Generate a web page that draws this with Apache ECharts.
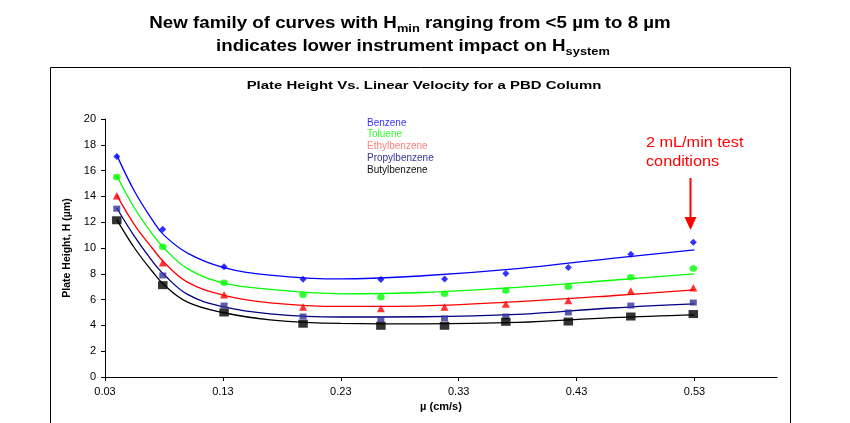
<!DOCTYPE html>
<html>
<head>
<meta charset="utf-8">
<script src="https://cdn.jsdelivr.net/npm/echarts@6/dist/echarts.min.js"></script>
<style>html,body{margin:0;padding:0;background:#fff}#c{width:850px;height:423px}</style>
</head>
<body>
<div id="c"></div>
<script>
// ---- data ----
const velocity = [0.04, 0.079, 0.131, 0.198, 0.264, 0.318, 0.37, 0.423, 0.476, 0.529];
const benzene = [17.1, 11.45, 8.54, 7.58, 7.55, 7.6, 8.02, 8.48, 9.52, 10.45];
const toluene = [15.5, 10.1, 7.3, 6.37, 6.19, 6.45, 6.7, 6.99, 7.74, 8.41];
const ethylbenzene = [14.06, 8.85, 6.37, 5.42, 5.31, 5.42, 5.65, 5.93, 6.66, 6.91];
const propylbenzene = [13.05, 7.87, 5.54, 4.69, 4.49, 4.54, 4.69, 5.0, 5.54, 5.77];
const butylbenzene = [12.15, 7.12, 5.0, 4.13, 3.97, 3.97, 4.28, 4.3, 4.69, 4.88];

// trend lines
const trendVelocity = [0.04, 0.055, 0.07, 0.08, 0.1, 0.13, 0.17, 0.23, 0.3, 0.38, 0.46, 0.53];
const benzeneTrend = [17.2, 14.4, 12.2, 11.0, 9.6, 8.5, 7.9, 7.6, 7.85, 8.4, 9.2, 9.85];
const tolueneTrend = [15.6, 13.1, 11.1, 10.0, 8.4, 7.3, 6.8, 6.45, 6.55, 6.95, 7.5, 8.0];
const ethylbenzeneTrend = [14.1, 11.8, 10.0, 8.9, 7.35, 6.35, 5.75, 5.47, 5.52, 5.85, 6.3, 6.75];
const propylbenzeneTrend = [13.1, 10.9, 9.0, 7.95, 6.4, 5.45, 4.9, 4.65, 4.67, 4.85, 5.35, 5.67];
const butylbenzeneTrend = [12.2, 10.0, 8.2, 7.15, 5.8, 5.0, 4.43, 4.15, 4.12, 4.23, 4.6, 4.82];

const xTicks = [0.03, 0.13, 0.23, 0.33, 0.43, 0.53];
const seriesNames = ['Benzene', 'Toluene', 'Ethylbenzene', 'Propylbenzene', 'Butylbenzene'];

// ---- styles ----
const pointColors = ['#0000ff', '#00ff00', '#ff0000', '#333399', '#000000'];
const lineColors = ['#0000ff', '#00ff00', '#ff0000', '#000080', '#000000'];
const legendColors = ['#3333ff', '#33ff33', '#ff8080', '#333399', '#111111'];
const symbols = ['diamond', 'circle', 'triangle', 'rect', 'rect'];
const symbolSizes = [[7, 7], [7.5, 6.5], [8, 7.5], [7, 6], [9.5, 8]];
const pointData = [benzene, toluene, ethylbenzene, propylbenzene, butylbenzene];
const trendData = [benzeneTrend, tolueneTrend, ethylbenzeneTrend, propylbenzeneTrend, butylbenzeneTrend];

const zip = (xs, ys) => xs.map((x, i) => [x, ys[i]]);
const FONT = '"Liberation Sans", Arial, sans-serif';

const series = [];
seriesNames.forEach((n, i) => {
  series.push({
    name: n + ' trend', type: 'line', data: zip(trendVelocity, trendData[i]),
    smooth: 0.4, showSymbol: false, silent: true,
    lineStyle: { color: lineColors[i], width: 1.3 }, z: 2
  });
});
seriesNames.forEach((n, i) => {
  series.push({
    name: n, type: 'scatter', data: zip(velocity, pointData[i]),
    symbol: symbols[i], symbolSize: symbolSizes[i],
    itemStyle: { color: pointColors[i] }, z: 3
  });
});

const headFont = 'bold 16px "Liberation Sans", Arial';
const subFont = 'bold 11px "Liberation Sans", Arial';

const chart = echarts.init(document.getElementById('c'), null, { renderer: 'canvas' });
chart.setOption({
  animation: false,
  backgroundColor: '#fff',
  textStyle: { fontFamily: FONT },
  legend: {
    orient: 'vertical', left: 367, top: 118, itemGap: 1.7, padding: 0,
    icon: 'none', itemWidth: 0, itemHeight: 10, selectedMode: false,
    data: seriesNames.map((n, i) => ({ name: n, textStyle: { color: legendColors[i] } })),
    textStyle: { fontSize: 10, fontFamily: FONT, padding: [0, 0, 0, -5] }
  },
  grid: { left: 105, right: 73, top: 119, bottom: 46, containLabel: false },
  xAxis: {
    type: 'value', min: 0.03, max: 0.6,
    name: 'µ (cm/s)', nameLocation: 'middle', nameGap: 23,
    nameTextStyle: { fontSize: 11, fontWeight: 'bold', color: '#000', fontFamily: FONT },
    axisLine: { lineStyle: { color: '#000', width: 1 } },
    axisTick: { show: true, customValues: xTicks, length: 4, lineStyle: { color: '#000' } },
    axisLabel: { customValues: xTicks, fontSize: 11, color: '#000', margin: 9,
      formatter: v => v.toFixed(2) },
    splitLine: { show: false }
  },
  yAxis: {
    type: 'value', min: 0, max: 20, interval: 2,
    name: 'Plate Height, H (µm)', nameLocation: 'middle', nameGap: 31, nameRotate: 90,
    nameTextStyle: { fontSize: 10.5, fontWeight: 'bold', color: '#000', fontFamily: FONT },
    axisLine: { show: true, lineStyle: { color: '#000', width: 1 } },
    axisTick: { show: true, length: 4, lineStyle: { color: '#000' } },
    axisLabel: { fontSize: 11, color: '#000', margin: 9 },
    splitLine: { show: false }
  },
  graphic: [
    { type: 'rect', shape: { x: 50.5, y: 67.5, width: 740, height: 400 },
      style: { fill: 'none', stroke: '#000', lineWidth: 1 }, z: -1, silent: true },
    { type: 'text', x: 424, y: 80, scaleX: 1.3, style: {
        text: 'Plate Height Vs. Linear Velocity for a PBD Column',
        textAlign: 'center', fill: '#000', font: 'bold 11.5px "Liberation Sans", Arial'
      } },
    { type: 'text', x: 410, y: 14, scaleX: 1.17, style: {
        text: 'New family of curves with H{sub|min} ranging from <5 µm to 8 µm',
        textAlign: 'center', fill: '#000', font: headFont,
        rich: { sub: { font: subFont, padding: [9, 0, 0, 0] } }
      } },
    { type: 'text', x: 413, y: 37, scaleX: 1.17, style: {
        text: 'indicates lower instrument impact on H{sub|system}',
        textAlign: 'center', fill: '#000', font: headFont,
        rich: { sub: { font: subFont, padding: [9, 0, 0, 0] } }
      } },
    { type: 'text', x: 646, y: 133, scaleX: 1.12, style: {
        text: '2 mL/min test\nconditions', fill: '#ff0000', font: '14.5px "Liberation Sans", Arial', lineHeight: 19
      } },
    { type: 'line', shape: { x1: 690.5, y1: 178, x2: 690.5, y2: 219 },
      style: { stroke: '#ff0000', lineWidth: 2 } },
    { type: 'polygon', shape: { points: [[684.5, 217], [696.5, 217], [690.5, 230]] },
      style: { fill: '#ff0000' } }
  ],
  series: series
});
</script>
</body>
</html>
